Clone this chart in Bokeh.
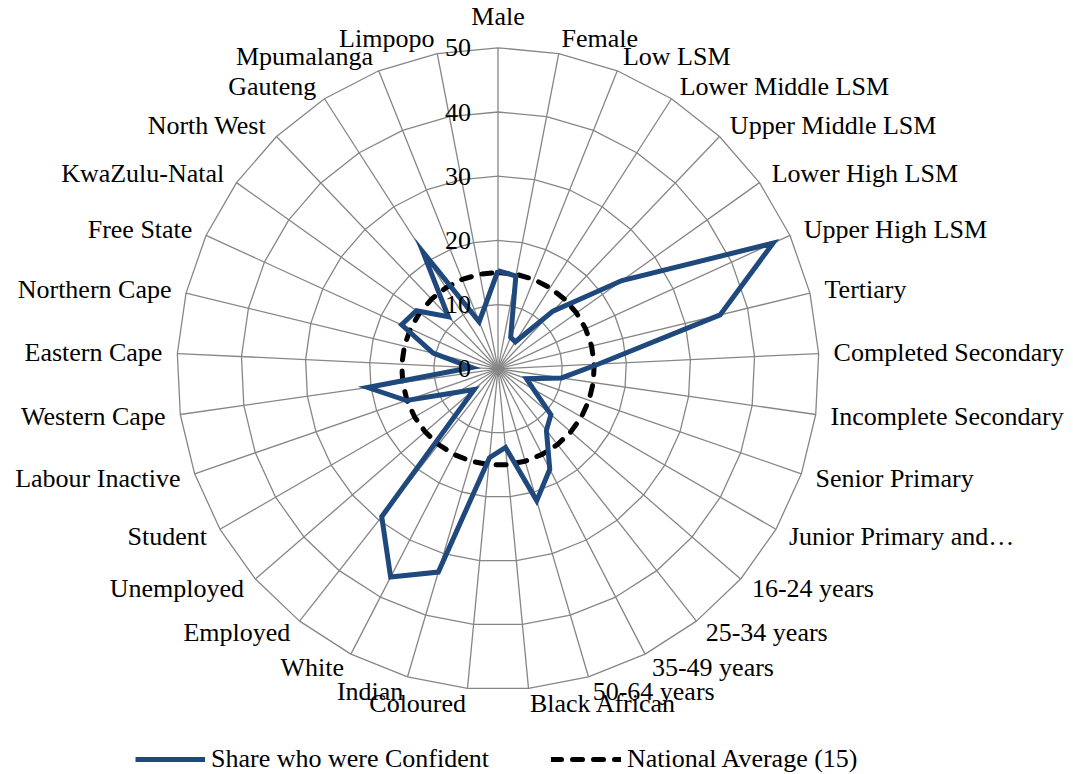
import numpy as np
from bokeh.plotting import figure
from bokeh.models import Range1d, Legend, LegendItem, ColumnDataSource
from bokeh.embed import file_html
from bokeh.resources import INLINE
from bokeh.core.properties import value

# ---------------- data ----------------
categories = [
    "Male", "Female", "Low LSM", "Lower Middle LSM", "Upper Middle LSM",
    "Lower High LSM", "Upper High LSM", "Tertiary", "Completed Secondary",
    "Incomplete Secondary", "Senior Primary", "Junior Primary and\u2026",
    "16-24 years", "25-34 years", "35-49 years", "50-64 years",
    "Black African", "Coloured", "Indian", "White", "Employed", "Unemployed",
    "Student", "Labour Inactive", "Western Cape", "Eastern Cape",
    "Northern Cape", "Free State", "KwaZulu-Natal", "North West", "Gauteng",
    "Mpumalanga", "Limpopo",
]
confident = [
    15.3, 14.7, 5.3, 5.0, 12.4,
    23.7, 47.1, 35.6, 15.7,
    10.0, 4.7, 6.4,
    10.9, 12.2, 17.6, 21.4,
    12.3, 13.9, 33.0, 36.5, 29.3, 4.9,
    7.3, 15.1, 20.5, 4.1,
    10.4, 16.5, 15.6, 11.2, 21.6,
    7.9, 10.2,
]
national_average = [15] * len(categories)
tick_values = [0, 10, 20, 30, 40, 50]
tick_labels = ["0", "10", "20", "30", "40", "50"]
series_names = ["Share who were Confident", "National Average (15)"]

# ---------------- geometry ----------------
W, H = 1073, 774
S = 6.42                 # pixels per unit
CX, CY = 497.5, 368.3    # centre in canvas pixels (from left, from top)
RMAX = tick_values[-1]
LABEL_R = RMAX + 15.0 / S
TOP_R = RMAX + 17.0 / S
FONT_NAME = "Liberation Serif"
FONT = value(FONT_NAME)
GRID = "#868686"

n = len(categories)
theta = np.arange(n) * 2 * np.pi / n
sin_t, cos_t = np.sin(theta), np.cos(theta)

p = figure(width=W, height=H, output_backend="svg", toolbar_location=None,
           x_range=Range1d(-CX / S, (W - CX) / S),
           y_range=Range1d(-(H - CY) / S, CY / S),
           x_axis_location=None, y_axis_location=None,
           min_border=0, outline_line_color=None)
p.grid.visible = False

# spokes
p.multi_line(xs=[[0, RMAX * s] for s in sin_t], ys=[[0, RMAX * c] for c in cos_t],
             line_color=GRID, line_width=1.3)
# rings (polygons)
ring_xs, ring_ys = [], []
for tv in tick_values[1:]:
    ring_xs.append(list(tv * sin_t) + [tv * sin_t[0]])
    ring_ys.append(list(tv * cos_t) + [tv * cos_t[0]])
p.multi_line(xs=ring_xs, ys=ring_ys, line_color=GRID, line_width=1.3)

# national average (dashed)
na = np.array(national_average, dtype=float)
na_x = list(na * sin_t) + [na[0] * sin_t[0]]
na_y = list(na * cos_t) + [na[0] * cos_t[0]]
r_na = p.line(na_x, na_y, line_color="black", line_width=5, line_dash="10 11",
              line_cap="round")

# confident series
cf = np.array(confident, dtype=float)
cf_x = list(cf * sin_t) + [cf[0] * sin_t[0]]
cf_y = list(cf * cos_t) + [cf[0] * cos_t[0]]
r_cf = p.line(cf_x, cf_y, line_color="#1F497D", line_width=5, line_join="miter")

# tick labels
p.text(x=[-27.0 / S] * len(tick_values), y=tick_values, text=tick_labels,
       text_align="right", text_baseline="middle",
       text_font=FONT, text_font_size="26px", text_color="black")

# category labels
xs, ys, aligns, baselines = [], [], [], []
for t in theta:
    if abs(t) < 1e-9:
        xs.append(0.0); ys.append(TOP_R)
        aligns.append("center"); baselines.append("bottom")
    else:
        xs.append(LABEL_R * np.sin(t)); ys.append(LABEL_R * np.cos(t))
        aligns.append("left" if t < np.pi else "right"); baselines.append("middle")
lab_src = ColumnDataSource(dict(x=xs, y=ys, text=categories, align=aligns, base=baselines))
p.text(x="x", y="y", text="text", source=lab_src, text_align="align",
       text_baseline="base", text_font=FONT, text_font_size="26px",
       text_color="black")

legend = Legend(items=[LegendItem(label=series_names[0], renderers=[r_cf]),
                       LegendItem(label=series_names[1], renderers=[r_na])],
                orientation="horizontal", location=(135, 0),
                glyph_width=70, glyph_height=26, label_standoff=6, spacing=62,
                padding=0, margin=0, border_line_alpha=0, background_fill_alpha=0,
                label_text_font=FONT_NAME, label_text_font_size="26px",
                label_text_color="black")
p.add_layout(legend)

open("out.html", "w").write(file_html(p, INLINE))
